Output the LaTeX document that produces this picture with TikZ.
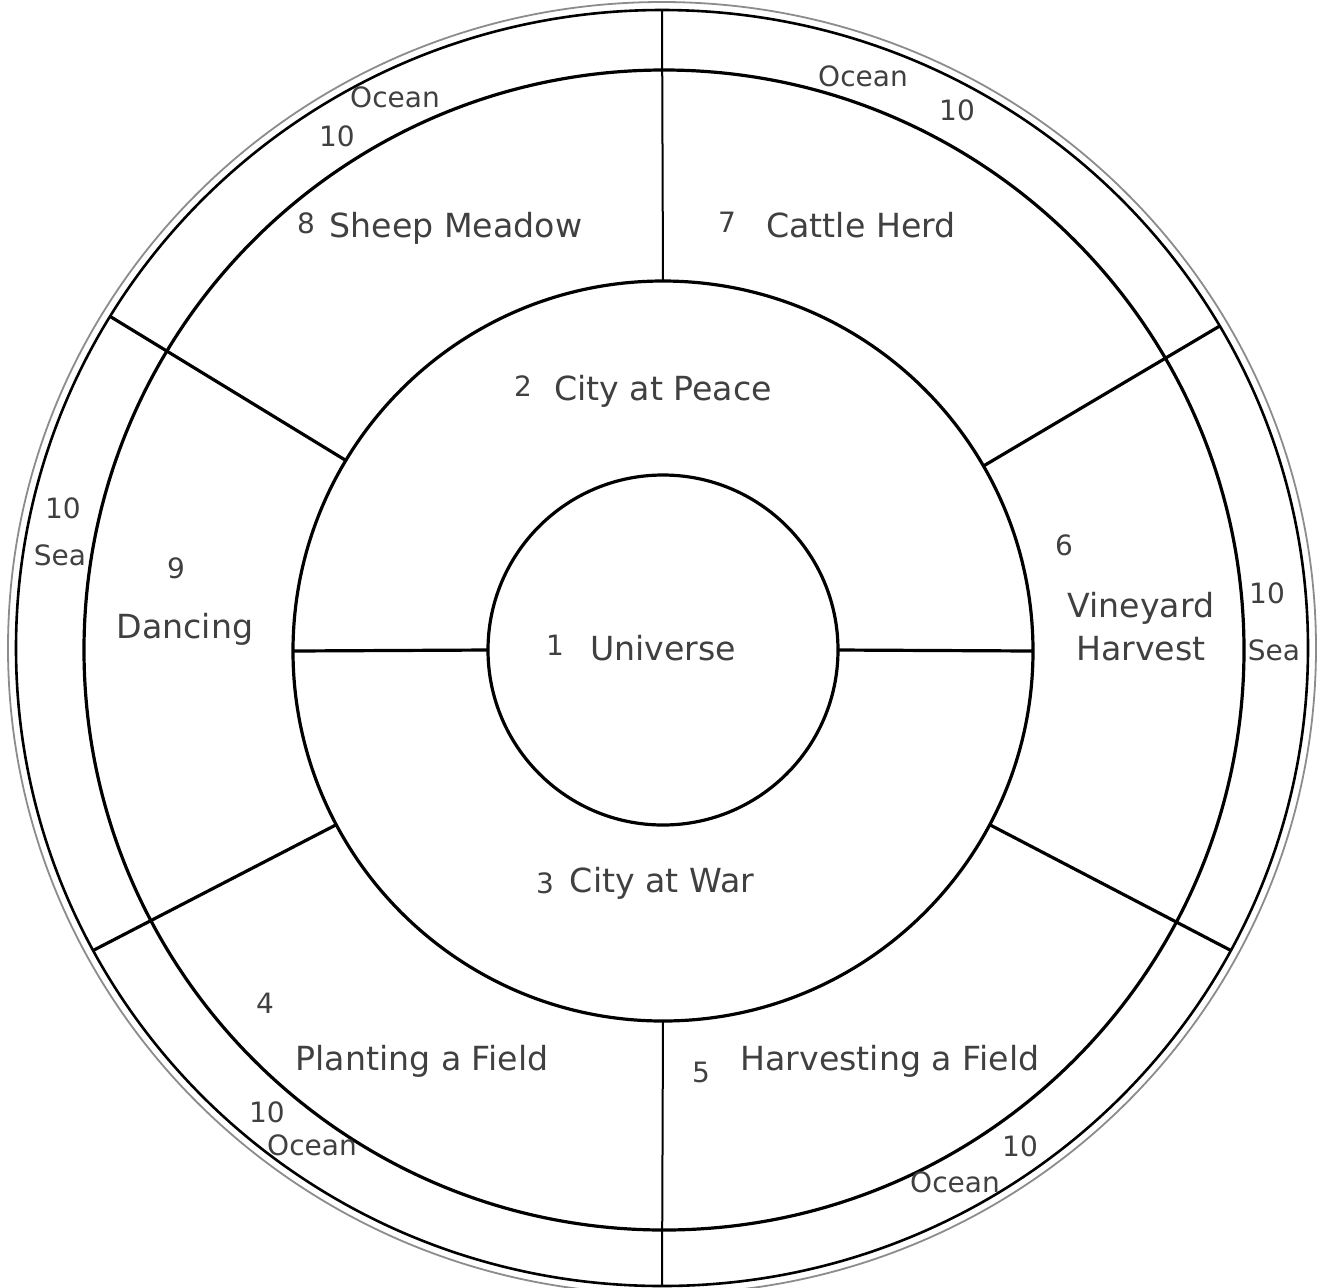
\documentclass[tikz,border=0pt]{standalone}
\usepackage{fontspec}
\setmainfont{DejaVu Sans}
\usetikzlibrary{shapes.geometric}
\begin{document}
\begin{tikzpicture}[x=0.5pt,y=-0.5pt,
  ring/.style={draw=black, line width=1.6pt, circle, inner sep=0pt, outer sep=0pt},
  oval/.style={draw=black, line width=1.3pt, ellipse, inner sep=0pt, outer sep=0pt},
  divider/.style={draw=black, line width=1.6pt},
  thindiv/.style={draw=black, line width=1.0pt},
  lab/.style={anchor=base, text=black!75, font=\fontsize{16.6}{19}\selectfont, inner sep=0pt},
  small/.style={anchor=base, text=black!75, font=\fontsize{14}{16}\selectfont, inner sep=0pt}]
\useasboundingbox (0,0) rectangle (1318,1287);
\fill[white] (0,0) rectangle (1318,1287);
% rings
\node[oval, draw=black!45, line width=0.9pt, minimum width=654pt, minimum height=646pt] (outerg) at (662,648) {};
\node[oval, minimum width=646pt, minimum height=638pt] (outer) at (662,648) {};
\node[ring, minimum size=580pt] (ocean) at (664,650) {};
\node[ring, minimum size=370pt] (middle) at (663,651) {};
\node[ring, minimum size=175pt] (inner) at (663,650) {};
% dividers
\draw[thindiv] (outer.north) -- (middle.north);
\draw[thindiv] (middle.south) -- (outer.south);
\draw[divider] (middle.west) -- (inner.west);
\draw[divider] (inner.east) -- (middle.east);
\draw[divider] (middle.149.5) -- (outer.149.5);
\draw[divider] (middle.30.5) -- (outer.30.5);
\draw[divider] (middle.208) -- (outer.208);
\draw[divider] (middle.-28.4) -- (outer.-28.4);
% labels
\node[small] (oc1) at (395,107) {Ocean};
\node[small] (t1) at (337,146) {10};
\node[small] (oc2) at (863,86) {Ocean};
\node[small] (t2) at (957,120) {10};
\node[small] (n8) at (306,233) {8};
\node[lab] (l8) at (456,237) {Sheep Meadow};
\node[small] (n7) at (727,232) {7};
\node[lab] (l7) at (861,237) {Cattle Herd};
\node[small] (n2) at (523,396) {2};
\node[lab] (l2) at (663,400) {City at Peace};
\node[small] (t3) at (63,518) {10};
\node[small] (s1) at (60,565) {Sea};
\node[small] (n9) at (176,578) {9};
\node[lab] (l9) at (185,638) {Dancing};
\node[small] (n1) at (555,655) {1};
\node[lab] (l1) at (663,660) {Universe};
\node[small] (n6) at (1064,555) {6};
\node[lab] (l6a) at (1141,617) {Vineyard};
\node[lab] (l6b) at (1141,660) {Harvest};
\node[small] (t4) at (1267,603) {10};
\node[small] (s2) at (1274,660) {Sea};
\node[small] (n3) at (545,893) {3};
\node[lab] (l3) at (662,892) {City at War};
\node[small] (n4) at (265,1013) {4};
\node[lab] (l4) at (422,1070) {Planting a Field};
\node[small] (t5) at (267,1122) {10};
\node[small] (oc3) at (312,1155) {Ocean};
\node[small] (n5) at (701,1082) {5};
\node[lab] (l5) at (890,1070) {Harvesting a Field};
\node[small] (t6) at (1020,1156) {10};
\node[small] (oc4) at (955,1192) {Ocean};
\end{tikzpicture}
\end{document}
